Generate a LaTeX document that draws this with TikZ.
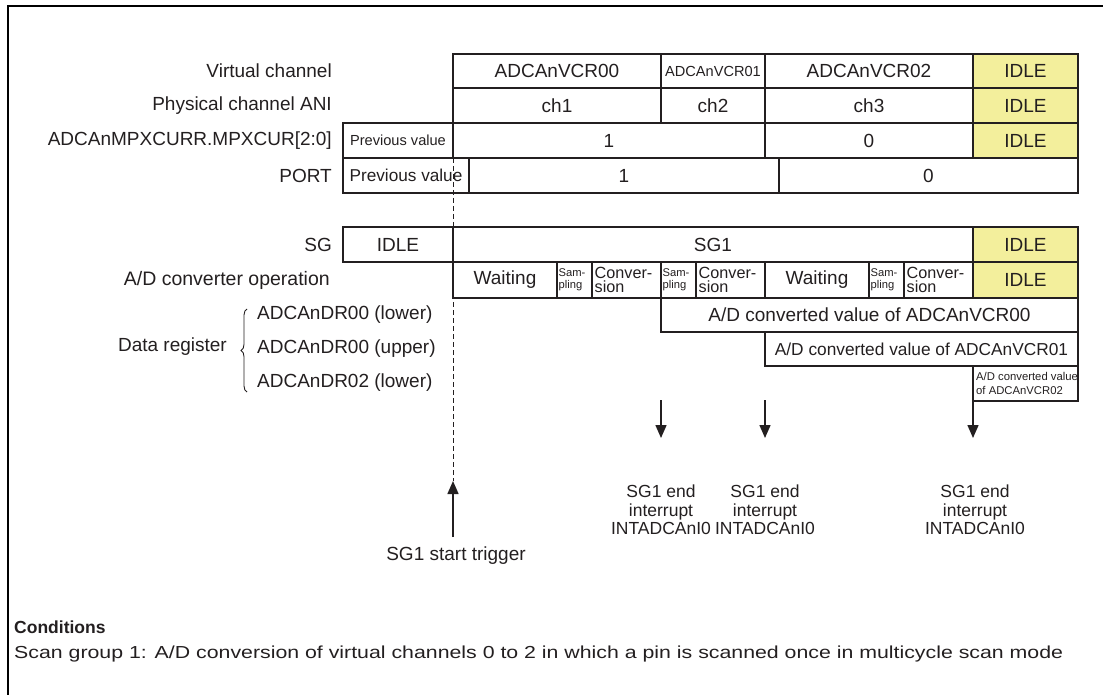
\documentclass[tikz,border=0pt]{standalone}
\usepackage{fontspec}
\setmainfont{Liberation Sans}
\usetikzlibrary{arrows.meta,decorations.pathreplacing}
\definecolor{lc}{RGB}{35,31,32}
\definecolor{idle}{RGB}{243,239,156}
\newcommand\fsz[2]{\fontsize{#1}{#2}\selectfont}
\tikzset{
  cellline/.style={draw=lc,line width=1.5pt},
  txt/.style={text=lc,font=\fsz{19}{21},inner sep=0pt},
  lab/.style={txt,anchor=east},
  arr/.style={draw=lc,line width=1.5pt,-{Triangle[width=11pt,length=13pt]}},
  lefttxt/.style={txt,anchor=west,align=left},
  samtxt/.style={lefttxt,font=\fsz{11.2}{12.5}},
  convtxt/.style={lefttxt,font=\fsz{16.2}{14.5}},
}
% \cellbox[path opts]{name}{x1}{y1}{x2}{y2}{text}
\newcommand\cellbox[7][]{\path[cellline,#1] (#3,#4) rectangle (#5,#6) node[midway,txt] (#2) {#7};}
\begin{document}
\begin{tikzpicture}[x=1pt,y=-1pt]
\useasboundingbox (0,0) rectangle (1103,695);
% frame
\draw[black,line width=1.8pt] (8,695) -- (8,6) -- (1103,6);

% row labels
\node[lab] (lvc) at (332,71) {Virtual channel};
\node[lab] (lpc) at (332,105.5) {Physical channel ANI};
\node[lab] (lmpx) at (332,140.5) {ADCAnMPXCURR.MPXCUR[2:0]};
\node[lab] (lport) at (332,175.5) {PORT};
\node[lab] (lsg) at (332,244.5) {SG};
\node[lab,font=\fsz{19.5}{21}] (lad) at (330,280) {A/D converter operation};
\node[txt,anchor=west] (ld1) at (257,315) {ADCAnDR00 (lower)};
\node[txt,anchor=west] (ld2) at (257,348.5) {ADCAnDR00 (upper)};
\node[txt,anchor=west] (ld3) at (257,382.5) {ADCAnDR02 (lower)};
\node[txt,anchor=east,font=\fsz{19}{20}] (ldr) at (227,347) {Data register};
\draw[draw=lc,line width=0.9pt,decorate,decoration={brace,amplitude=6pt,mirror}] (247,309) -- (247,392);

% dashed start line
\coordinate (dtop) at (453,158);
\coordinate (dend) at (453,481);
\draw[draw=lc,line width=1pt,dash pattern=on 5pt off 3pt] (dtop) -- (dend);

% row 1
\cellbox{vcr00}{453}{54}{661}{88}{ADCAnVCR00}
\cellbox{vcr01}{661}{54}{765}{88}{\fsz{14.6}{16}ADCAnVCR01}
\cellbox{vcr02}{765}{54}{973}{88}{ADCAnVCR02}
\cellbox[fill=idle]{i1}{973}{54}{1078}{88}{IDLE}
% row 2
\cellbox{ch1}{453}{88}{661}{123}{ch1}
\cellbox{ch2}{661}{88}{765}{123}{ch2}
\cellbox{ch3}{765}{88}{973}{123}{ch3}
\cellbox[fill=idle]{i2}{973}{88}{1078}{123}{IDLE}
% row 3
\cellbox{mpv}{343}{123}{453}{158}{\fsz{14.6}{16}Previous value}
\cellbox{m1}{453}{123}{765}{158}{1}
\cellbox{m0}{765}{123}{973}{158}{0}
\cellbox[fill=idle]{i3}{973}{123}{1078}{158}{IDLE}
% row 4
\cellbox{ppv}{343}{158}{469}{193}{\fsz{17.2}{19}Previous value}
\cellbox{p1}{469}{158}{779}{193}{1}
\cellbox{p0}{779}{158}{1078}{193}{0}
% SG row
\cellbox{sgi}{343}{227}{453}{262}{IDLE}
\cellbox{sg1}{453}{227}{973}{262}{SG1}
\cellbox[fill=idle]{i4}{973}{227}{1078}{262}{IDLE}
% A/D operation row
\cellbox{w1}{453}{262}{557}{298}{Waiting}
\path[cellline] (557,262) rectangle (592,298);
\node[samtxt] (s1) at (558.5,280) {Sam-\\pling};
\path[cellline] (592,262) rectangle (661,298);
\node[convtxt] (c1) at (594.5,280) {Conver-\\sion};
\path[cellline] (661,262) rectangle (696,298);
\node[samtxt] (s2) at (662.5,280) {Sam-\\pling};
\path[cellline] (696,262) rectangle (765,298);
\node[convtxt] (c2) at (698.5,280) {Conver-\\sion};
\cellbox{w2}{765}{262}{869}{298}{Waiting}
\path[cellline] (869,262) rectangle (904,298);
\node[samtxt] (s3) at (870.5,280) {Sam-\\pling};
\path[cellline] (904,262) rectangle (973,298);
\node[convtxt] (c3) at (906.5,280) {Conver-\\sion};
\cellbox[fill=idle]{i5}{973}{262}{1078}{298}{IDLE}
% data rows
\cellbox{d1}{661}{298}{1078}{332}{A/D converted value of ADCAnVCR00}
\cellbox{d2}{765}{332}{1078}{366}{\fsz{17.3}{19}A/D converted value of ADCAnVCR01}
\path[cellline] (973,366) rectangle (1078,401);
\node[lefttxt,font=\fsz{11.3}{14}] (d3) at (976,383.5) {A/D converted value\\of ADCAnVCR02};

% interrupt arrows
\coordinate (a1s) at (661,400);
\coordinate (a1e) at (661,438);
\coordinate (a2s) at (765,400);
\coordinate (a2e) at (765,438);
\coordinate (a3s) at (973,401);
\coordinate (a3e) at (973,438);
\draw[arr] (a1s) -- (a1e);
\draw[arr] (a2s) -- (a2e);
\draw[arr] (a3s) -- (a3e);
\node[txt,align=center,font=\fsz{17.5}{18.5}] (t1) at (661,510) {SG1 end\\interrupt\\INTADCAnI0};
\node[txt,align=center,font=\fsz{17.5}{18.5}] (t2) at (765,510) {SG1 end\\interrupt\\INTADCAnI0};
\node[txt,align=center,font=\fsz{17.5}{18.5}] (t3) at (975,510) {SG1 end\\interrupt\\INTADCAnI0};

% start trigger
\coordinate (trig) at (453,537);
\draw[arr] (trig) -- (dend);
\node[txt,font=\fsz{19}{20}] (tst) at (456,556) {SG1 start trigger};

% conditions
\node[txt,anchor=base west,font=\bfseries\fsz{17.5}{19}] (cond) at (14,633) {Conditions};
\node[txt,anchor=base west,font=\fsz{19}{21}] (condt) at (14,658) {\resizebox{1049pt}{12.6pt}{Scan group 1: A/D conversion of virtual channels 0 to 2 in which a pin is scanned once in multicycle scan mode}};
\end{tikzpicture}
\end{document}
